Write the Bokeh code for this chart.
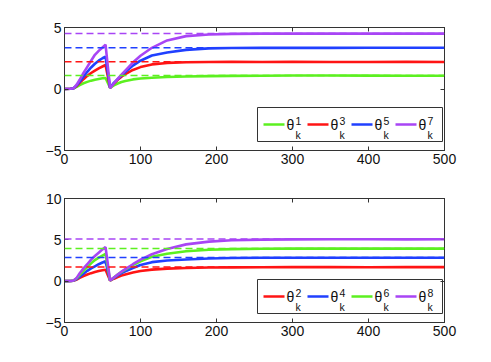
from bokeh.plotting import figure
from bokeh.layouts import column
from bokeh.models import Span, LinearAxis, FixedTicker, Range1d, BoxAnnotation, ColumnDataSource
from bokeh.embed import file_html
from bokeh.resources import INLINE

# ---- data ----
k = [0, 8, 12, 16, 20, 25, 30, 35, 40, 45, 50, 54, 60, 65, 70, 75, 80, 90, 100,
     115, 135, 160, 190, 220, 260, 300, 350, 400, 450, 500]
x_ticks = [0, 100, 200, 300, 400, 500]

# top panel
theta1 = [0, 0.02, 0.06, 0.18, 0.32, 0.47, 0.58, 0.68, 0.76, 0.82, 0.87, 0.9,
          0.1, 0.3, 0.45, 0.57, 0.65, 0.78, 0.85, 0.92, 0.98, 1.02, 1.05, 1.07,
          1.08, 1.1, 1.1, 1.09, 1.08, 1.08]
theta3 = [0, 0.02, 0.06, 0.25, 0.5, 0.8, 1.07, 1.3, 1.5, 1.68, 1.83, 1.95,
          0.1, 0.45, 0.75, 1.0, 1.2, 1.55, 1.78, 2.0, 2.12, 2.18, 2.2, 2.21,
          2.2, 2.21, 2.2, 2.2, 2.21, 2.2]
theta5 = [0, 0.02, 0.06, 0.3, 0.6, 1.0, 1.4, 1.75, 2.05, 2.3, 2.5, 2.62,
          0.1, 0.5, 0.8, 1.1, 1.38, 1.9, 2.3, 2.72, 2.97, 3.18, 3.3, 3.33,
          3.34, 3.35, 3.34, 3.35, 3.35, 3.35]
theta7 = [0, 0.02, 0.06, 0.35, 0.75, 1.3, 1.8, 2.3, 2.78, 3.1, 3.38, 3.6,
          0.08, 0.45, 0.82, 1.17, 1.5, 2.15, 2.7, 3.35, 3.95, 4.3, 4.43, 4.48,
          4.5, 4.5, 4.51, 4.5, 4.5, 4.5]
targets_top = [1.1, 2.22, 3.35, 4.52]
yticks_top = [-5, 0, 5]

# bottom panel
theta2 = [0, 0.02, 0.05, 0.2, 0.4, 0.62, 0.8, 0.97, 1.1, 1.22, 1.32, 1.38,
          0.08, 0.3, 0.5, 0.68, 0.82, 1.05, 1.22, 1.4, 1.52, 1.6, 1.65, 1.67,
          1.68, 1.7, 1.7, 1.69, 1.7, 1.7]
theta4 = [0, 0.02, 0.06, 0.25, 0.55, 0.9, 1.25, 1.55, 1.8, 2.05, 2.25, 2.4,
          0.08, 0.4, 0.7, 0.98, 1.2, 1.6, 1.95, 2.3, 2.5, 2.63, 2.75, 2.8,
          2.83, 2.84, 2.84, 2.83, 2.84, 2.84]
theta6 = [0, 0.02, 0.08, 0.35, 0.75, 1.25, 1.7, 2.15, 2.55, 2.85, 3.1, 3.3,
          0.08, 0.45, 0.8, 1.12, 1.4, 1.95, 2.4, 2.95, 3.32, 3.62, 3.8, 3.88,
          3.92, 3.94, 3.95, 3.94, 3.94, 3.94]
theta8 = [0, 0.02, 0.08, 0.4, 0.95, 1.55, 2.05, 2.6, 3.05, 3.45, 3.85, 4.12,
          0.08, 0.45, 0.8, 1.15, 1.45, 2.05, 2.6, 3.25, 3.9, 4.45, 4.78, 4.95,
          5.03, 5.05, 5.07, 5.07, 5.06, 5.07]
targets_bot = [1.72, 2.86, 3.95, 5.1]
yticks_bot = [-5, 0, 5, 10]

GREEN = "#5cf020"
RED = "#ff1414"
BLUE = "#2040ff"
PURPLE = "#a845f5"

top_series = [("1", theta1, GREEN, targets_top[0]),
              ("3", theta3, RED, targets_top[1]),
              ("5", theta5, BLUE, targets_top[2]),
              ("7", theta7, PURPLE, targets_top[3])]
bot_series = [("2", theta2, RED, targets_bot[0]),
              ("4", theta4, BLUE, targets_bot[1]),
              ("6", theta6, GREEN, targets_bot[2]),
              ("8", theta8, PURPLE, targets_bot[3])]

AX = "#333333"
FONT = "Liberation Sans"

FIG_W, BL, BR = 483, 64, 39
FRAME_W = FIG_W - BL - BR
X_RANGE = (0, 500)

# legend layout, in px from the plot frame's bottom-left corner
BOX_L, BOX_B, BOX_W, BOX_H = 193, 9, 185, 34
ITEM0, PITCH, SAMPLE_W, THETA_GAP, SCRIPT_GAP = 6, 44, 21, 2, 9
SUP_BASE, SUB_BASE = 29.5, 15.5


def style_axis(ax, ticks, show_labels=True):
    ax.axis_line_color = AX
    ax.major_tick_line_color = AX
    ax.major_tick_in = 4
    ax.major_tick_out = 0
    ax.minor_tick_line_color = None
    ax.major_label_text_font = FONT
    ax.major_label_text_font_size = "14px"
    ax.major_label_text_color = "#111111"
    ax.major_label_standoff = 3
    if show_labels:
        ax.major_label_overrides = {-5: "−5"}
    else:
        ax.major_label_overrides = {t: "" for t in ticks}
        ax.major_label_standoff = 0


def make(series, yr, yticks, height, btop, bbottom):
    frame_h = height - btop - bbottom
    p = figure(width=FIG_W, height=height, output_backend="svg",
               toolbar_location=None, x_range=Range1d(*X_RANGE),
               y_range=Range1d(*yr), min_border_left=BL, min_border_right=BR,
               min_border_top=btop, min_border_bottom=bbottom)
    p.grid.visible = False
    p.outline_line_color = AX
    p.outline_line_alpha = 1
    p.xaxis.ticker = FixedTicker(ticks=x_ticks)
    p.yaxis.ticker = FixedTicker(ticks=yticks)
    style_axis(p.xaxis[0], x_ticks)
    style_axis(p.yaxis[0], yticks)
    top_ax = LinearAxis(ticker=FixedTicker(ticks=x_ticks))
    right_ax = LinearAxis(ticker=FixedTicker(ticks=yticks))
    style_axis(top_ax, x_ticks, False)
    style_axis(right_ax, yticks, False)
    p.add_layout(top_ax, "above")
    p.add_layout(right_ax, "right")

    for sup, ys, color, tgt in series:
        p.line(k, ys, line_color=color, line_width=2.6)
    for sup, ys, color, tgt in series:
        p.add_layout(Span(location=tgt, dimension="width", line_color=color,
                          line_width=1.5, line_dash="7 4"))

    # ---- legend, built by hand (pixel offsets converted to axis units) ----
    sx = (X_RANGE[1] - X_RANGE[0]) / FRAME_W
    sy = (yr[1] - yr[0]) / frame_h
    X = lambda px: X_RANGE[0] + px * sx
    Y = lambda py: yr[0] + py * sy

    p.add_layout(BoxAnnotation(left=X(BOX_L), right=X(BOX_L + BOX_W),
                               bottom=Y(BOX_B), top=Y(BOX_B + BOX_H),
                               fill_color="white", fill_alpha=1,
                               line_color=AX, line_width=1, line_alpha=1,
                               level="underlay"))
    mid = BOX_B + BOX_H / 2
    seg = dict(x0=[], x1=[], y=[], c=[])
    th = dict(x=[], y=[], t=[])
    sc = dict(x=[], y=[], t=[])
    for i, (sup, ys, color, tgt) in enumerate(series):
        x0 = BOX_L + ITEM0 + i * PITCH
        seg["x0"].append(X(x0))
        seg["x1"].append(X(x0 + SAMPLE_W))
        seg["y"].append(Y(mid))
        seg["c"].append(color)
        tx = x0 + SAMPLE_W + THETA_GAP
        th["x"].append(X(tx))
        th["y"].append(Y(mid - 0.5))
        th["t"].append("θ")
        sc["x"] += [X(tx + SCRIPT_GAP), X(tx + SCRIPT_GAP)]
        sc["y"] += [Y(SUP_BASE), Y(SUB_BASE)]
        sc["t"] += [sup, "k"]
    p.segment(x0="x0", y0="y", x1="x1", y1="y", line_color="c", line_width=2.6,
              source=ColumnDataSource(seg))
    p.text(x="x", y="y", text="t", source=ColumnDataSource(th),
           text_font={"value": FONT}, text_font_size="14px",
           text_color="#111111", text_baseline="middle", text_align="left")
    p.text(x="x", y="y", text="t", source=ColumnDataSource(sc),
           text_font={"value": FONT}, text_font_size="10.5px",
           text_color="#111111", text_baseline="alphabetic", text_align="left")
    return p


p1 = make(top_series, (-5, 5), yticks_top, 178, 27, 28)
p2 = make(bot_series, (-5, 10), yticks_bot, 174, 20, 30)

layout = column(p1, p2, spacing=0)
open("out.html", "w").write(file_html(layout, INLINE))
